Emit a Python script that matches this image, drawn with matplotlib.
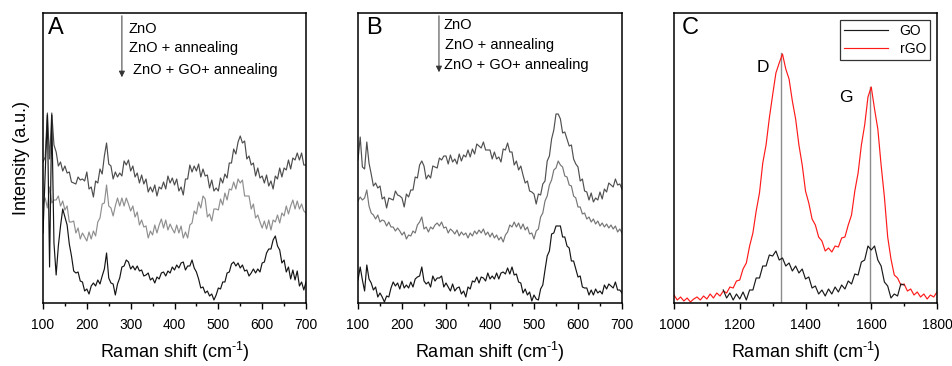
import numpy as np
import matplotlib
matplotlib.use("Agg")
import matplotlib.pyplot as plt
from matplotlib.ticker import MultipleLocator

plt.rcParams['font.family'] = ['Liberation Sans', 'DejaVu Sans']
plt.rcParams['mathtext.fontset'] = 'custom'
plt.rcParams['mathtext.rm'] = 'Liberation Sans'
plt.rcParams['mathtext.it'] = 'Liberation Sans:italic'

# ---------------- data ----------------
x_AB = np.arange(100, 701, 5)

A_zno = [141, 146, 190, 144, 190, 158, 151, 137, 141, 132, 137, 130, 131, 121, 120, 119, 126, 123, 124, 122,
         131, 114, 116, 106, 122, 120, 134, 129, 147, 160, 139, 137, 124, 131, 126, 130, 127, 142, 138, 143,
         132, 137, 126, 130, 120, 128, 119, 124, 111, 116, 111, 118, 107, 116, 114, 121, 114, 127, 120, 125,
         118, 124, 112, 116, 108, 124, 124, 138, 131, 137, 132, 139, 126, 134, 127, 128, 115, 123, 112, 115,
         112, 125, 120, 129, 125, 140, 140, 154, 149, 161, 167, 160, 162, 144, 147, 138, 140, 127, 135, 125,
         127, 120, 128, 117, 122, 114, 127, 124, 135, 126, 135, 133, 143, 134, 145, 143, 150, 143, 150, 138,
         138]
A_ann = [99, 105, 95, 116, 100, 103, 103, 107, 97, 102, 93, 97, 81, 81, 82, 70, 75, 64, 70, 66,
         62, 71, 64, 72, 67, 81, 85, 99, 100, 118, 97, 95, 87, 97, 105, 97, 105, 97, 105, 99,
         92, 97, 86, 91, 78, 83, 76, 77, 65, 72, 68, 78, 70, 78, 84, 75, 83, 73, 79, 74,
         70, 78, 70, 77, 65, 71, 65, 78, 80, 92, 89, 101, 95, 107, 104, 86, 89, 82, 94, 94,
         93, 104, 98, 110, 103, 114, 113, 121, 114, 124, 120, 123, 107, 107, 107, 94, 99, 85, 88, 81,
         75, 82, 74, 83, 73, 83, 81, 88, 80, 90, 87, 97, 89, 97, 103, 94, 102, 94, 99, 92,
         90]
A_go = [70, 130, 188, 36, 188, 60, 28, 57, 77, 94, 86, 78, 59, 47, 32, 30, 31, 22, 21, 12,
        14, 9, 17, 20, 17, 23, 19, 27, 34, 50, 25, 20, 19, 8, 19, 25, 36, 37, 43, 41,
        34, 37, 33, 37, 32, 33, 27, 28, 30, 23, 25, 20, 26, 24, 30, 31, 27, 32, 30, 36,
        33, 38, 35, 40, 41, 33, 37, 37, 43, 35, 31, 24, 15, 16, 10, 12, 7, 9, 3, 8,
        15, 14, 21, 21, 30, 31, 39, 41, 37, 40, 35, 38, 32, 33, 27, 30, 34, 30, 34, 31,
        40, 41, 50, 54, 54, 63, 67, 57, 53, 40, 43, 31, 36, 24, 33, 23, 32, 17, 21, 13,
        21]

B_zno = [143, 166, 136, 134, 161, 140, 129, 117, 120, 115, 117, 104, 106, 95, 105, 104, 103, 112, 108, 107,
         105, 96, 109, 106, 113, 113, 126, 125, 138, 142, 137, 124, 128, 125, 137, 136, 135, 145, 143, 147,
         147, 139, 148, 141, 144, 139, 149, 142, 148, 146, 153, 146, 154, 149, 159, 157, 155, 161, 153, 153,
         153, 144, 151, 144, 146, 141, 154, 153, 160, 151, 151, 138, 142, 133, 137, 128, 120, 122, 112, 111,
         109, 99, 109, 108, 119, 122, 142, 147, 164, 173, 189, 189, 184, 170, 171, 164, 157, 158, 144, 139,
         136, 122, 124, 112, 111, 103, 110, 101, 105, 103, 111, 104, 114, 111, 120, 118, 116, 124, 118, 119,
         114]
B_ann = [102, 106, 103, 105, 113, 97, 90, 88, 84, 88, 81, 83, 82, 77, 81, 76, 76, 72, 75, 72,
         68, 71, 64, 68, 67, 72, 70, 78, 81, 86, 74, 76, 71, 76, 74, 78, 80, 77, 81, 75,
         76, 70, 74, 72, 69, 73, 67, 71, 68, 70, 65, 70, 67, 72, 69, 73, 70, 74, 68, 71,
         66, 70, 65, 68, 63, 66, 61, 68, 71, 78, 76, 81, 76, 80, 74, 79, 73, 76, 69, 70,
         64, 72, 74, 86, 90, 102, 107, 118, 123, 133, 135, 142, 138, 136, 127, 126, 118, 117, 107, 105,
         96, 96, 89, 90, 84, 86, 81, 84, 79, 82, 77, 80, 76, 79, 75, 78, 74, 77, 71, 74,
         70]
B_go = [23, 36, 23, 12, 38, 24, 20, 13, 16, 6, 10, 6, 1, 7, 6, 15, 21, 17, 20, 14,
        22, 15, 18, 15, 21, 16, 24, 26, 27, 36, 22, 19, 21, 16, 27, 22, 25, 25, 27, 16,
        20, 16, 12, 19, 12, 15, 16, 9, 12, 6, 16, 14, 22, 21, 26, 20, 26, 25, 22, 30,
        24, 27, 24, 30, 24, 30, 31, 29, 35, 29, 36, 28, 29, 21, 20, 10, 14, 8, 11, 2,
        8, 4, 3, 14, 18, 33, 47, 52, 69, 70, 77, 77, 77, 66, 66, 57, 55, 42, 42, 34,
        26, 27, 16, 15, 15, 8, 13, 8, 14, 10, 12, 9, 18, 14, 19, 17, 15, 21, 13, 13,
        10]

x_rgo = np.arange(1000, 1801, 10)
C_rgo = [8, 3, 6, 2, 5, 1, 4, 6, 3, 7, 4, 9, 5, 10, 7, 12, 10, 16, 15, 22,
         23, 34, 40, 57, 70, 92, 110, 140, 158, 185, 208, 230, 240, 249, 234, 224, 202, 184, 158, 138,
         112, 100, 84, 78, 66, 62, 52, 55, 51, 57, 56, 65, 66, 78, 88, 112, 130, 158, 178, 206,
         216, 194, 174, 138, 106, 66, 44, 28, 25, 18, 19, 12, 14, 8, 11, 6, 9, 4, 8, 6,
         11]
x_go = np.arange(1150, 1701, 10)
C_go = [13, 5, 10, 3, 9, 4, 11, 3, 13, 13, 25, 25, 37, 37, 48, 47, 52, 43, 45, 37,
        40, 32, 37, 30, 34, 24, 26, 15, 17, 9, 13, 7, 14, 9, 16, 11, 18, 14, 22, 19,
        29, 28, 41, 43, 57, 53, 57, 43, 37, 21, 17, 5, 9, 7, 19, 18]

peak_pos = [1325, 1597]
peak_height = [250, 216]
peak_names = ['D', 'G']

legend_labels = ['GO', 'rGO']
annot_labels = ['ZnO', 'ZnO + annealing', 'ZnO + GO+ annealing']
panel_letters = ['A', 'B', 'C']

# ---------------- figure ----------------
W, H = 952, 366
fig = plt.figure(figsize=(W / 100, H / 100), dpi=100)

def px_axes(l, r, t, b):
    return fig.add_axes([l / W, (H - b) / H, (r - l) / W, (b - t) / H])

axA = px_axes(43, 306, 13, 303)
axB = px_axes(358, 622, 13, 303)
axC = px_axes(674, 937, 13, 303)

for ax in (axA, axB, axC):
    ax.set_ylim(0, 290)
    ax.set_yticks([])
    ax.tick_params(axis='x', direction='out', which='major', length=4.5, width=1,
                   labelsize=10, pad=6)
    ax.tick_params(axis='x', direction='out', which='minor', length=2.5, width=1)
    for s in ax.spines.values():
        s.set_linewidth(1.1)
    ax.set_xlabel(r'Raman shift (cm$^{\text{-1}}$)', fontsize=13, labelpad=6)

lw = 0.85
axA.plot(x_AB, A_zno, color='#4d4d4d', lw=lw)
axA.plot(x_AB, A_ann, color='#8f8f8f', lw=lw)
axA.plot(x_AB, A_go, color='#151515', lw=lw)
axB.plot(x_AB, B_zno, color='#505050', lw=lw)
axB.plot(x_AB, B_ann, color='#757575', lw=lw)
axB.plot(x_AB, B_go, color='#151515', lw=lw)

for ax in (axA, axB):
    ax.set_xlim(100, 700)
    ax.xaxis.set_major_locator(MultipleLocator(100))
    ax.xaxis.set_minor_locator(MultipleLocator(50))

axA.set_ylabel('Intensity (a.u.)', fontsize=13, labelpad=9)

# annotation arrows and texts
axA.annotate('', xy=(280, 223), xytext=(280, 290),
             arrowprops=dict(arrowstyle='-|>', lw=0.7, color='#333333', mutation_scale=9))
axA.text(296, 274, annot_labels[0], fontsize=10.5, va='center', ha='left')
axA.text(296, 255, annot_labels[1], fontsize=10.5, va='center', ha='left')
axA.text(305, 233, annot_labels[2], fontsize=10.5, va='center', ha='left')

axB.annotate('', xy=(284, 228), xytext=(284, 290),
             arrowprops=dict(arrowstyle='-|>', lw=0.7, color='#333333', mutation_scale=9))
axB.text(295, 278, annot_labels[0], fontsize=10.5, va='center', ha='left')
axB.text(298, 258, annot_labels[1], fontsize=10.5, va='center', ha='left')
axB.text(295, 238, annot_labels[2], fontsize=10.5, va='center', ha='left')

# panel C
for xp, hp in zip(peak_pos, peak_height):
    axC.plot([xp, xp], [0, hp], color='#8c8c8c', lw=1.0, zorder=1)
l_go, = axC.plot(x_go, C_go, color='#1a1a1a', lw=lw, zorder=3)
l_rgo, = axC.plot(x_rgo, C_rgo, color='#ff1a1a', lw=lw, zorder=2)
axC.set_xlim(1000, 1800)
axC.xaxis.set_major_locator(MultipleLocator(200))
axC.xaxis.set_minor_locator(MultipleLocator(100))
axC.text(1270, 235, peak_names[0], fontsize=12.5, ha='center', va='center')
axC.text(1523, 206, peak_names[1], fontsize=12.5, ha='center', va='center')
leg = axC.legend([l_go, l_rgo], legend_labels, loc='upper right', fontsize=10,
                 frameon=True, fancybox=False, edgecolor='black', handlelength=3.2,
                 borderaxespad=0.5, labelspacing=0.3, handletextpad=0.8,
                 markerfirst=True, borderpad=0.3)
leg.get_frame().set_linewidth(0.9)

for ax, letter, fx in zip((axA, axB, axC), panel_letters, (0.018, 0.03, 0.03)):
    ax.text(fx, 0.985, letter, transform=ax.transAxes, fontsize=17,
            ha='left', va='top')

fig.savefig('out.png', dpi=100)
